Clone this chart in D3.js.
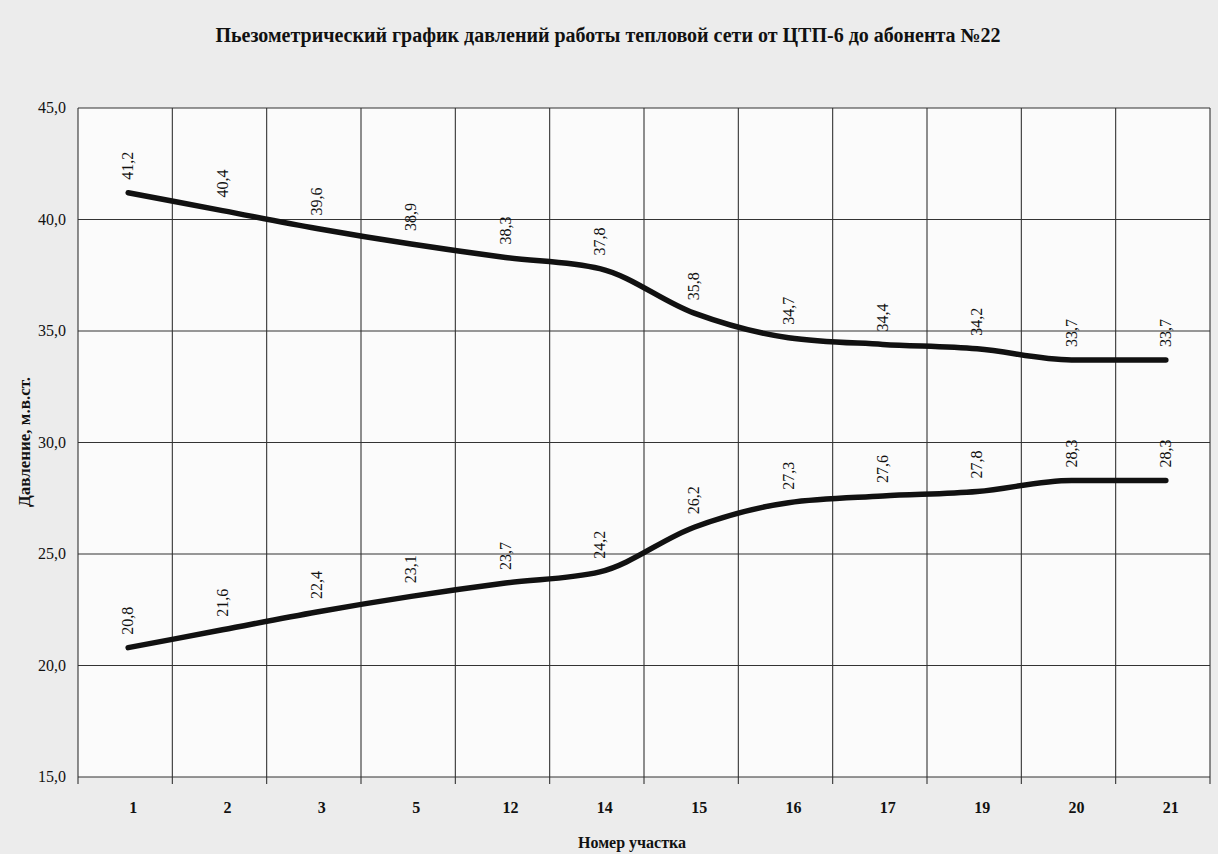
<!DOCTYPE html>
<html><head><meta charset="utf-8">
<script src="https://cdn.jsdelivr.net/npm/d3@7"></script>
<style>body{margin:0;background:#ededed;}svg{display:block;}</style>
</head><body>
<script>
const categories = ["1","2","3","5","12","14","15","16","17","19","20","21"];
const supply = [41.2,40.4,39.6,38.9,38.3,37.8,35.8,34.7,34.4,34.2,33.7,33.7];
const ret = [20.8,21.6,22.4,23.1,23.7,24.2,26.2,27.3,27.6,27.8,28.3,28.3];
const yTicks = [15,20,25,30,35,40,45];

const W=1218,H=854;
const m={l:78,t:108,r:1210,b:777};
const svg=d3.select("body").append("svg").attr("width",W).attr("height",H);
svg.append("rect").attr("width",W).attr("height",H).attr("fill","#ececec");
svg.append("rect").attr("x",m.l).attr("y",m.t).attr("width",m.r-m.l).attr("height",m.b-m.t).attr("fill","#fbfbfb");

const x=d3.scaleBand().domain(categories).range([m.l,m.r]);
const y=d3.scaleLinear().domain([15,45]).range([m.b,m.t]);
const fmt=v=>d3.format(".1f")(v).replace(".",",");

const g=svg.append("g");
g.selectAll(".hg").data(yTicks).join("line")
 .attr("x1",m.l).attr("x2",m.r).attr("y1",d=>y(d)).attr("y2",d=>y(d))
 .attr("stroke","#333").attr("stroke-width",1.2);
const edges=categories.map(c=>x(c)).concat([m.r]);
g.selectAll(".vg").data(edges).join("line")
 .attr("x1",d=>d).attr("x2",d=>d).attr("y1",m.t).attr("y2",m.b+7)
 .attr("stroke","#333").attr("stroke-width",1.1);

svg.selectAll(".yl").data(yTicks).join("text")
 .attr("x",m.l-12).attr("y",d=>y(d)+5).attr("text-anchor","end")
 .attr("font-family","Liberation Serif").attr("font-size",16).attr("fill","#111")
 .text(fmt);
svg.selectAll(".xl").data(categories).join("text")
 .attr("x",d=>x(d)+x.bandwidth()/2+8).attr("y",m.b+36).attr("text-anchor","middle")
 .attr("font-family","Liberation Serif").attr("font-size",16).attr("font-weight","bold").attr("fill","#111")
 .text(d=>d);

const line=d3.line().x((d,i)=>x(categories[i])+x.bandwidth()/2+3).y(d=>y(d)).curve(d3.curveMonotoneX);
[supply,ret].forEach(s=>{
  svg.append("path").attr("d",line(s)).attr("fill","none").attr("stroke","#111")
   .attr("stroke-width",5.5).attr("stroke-linecap","round").attr("stroke-linejoin","round");
  svg.selectAll(null).data(s).join("text")
   .attr("transform",(d,i)=>`translate(${x(categories[i])+x.bandwidth()/2+8},${y(d)-13}) rotate(-90)`)
   .attr("font-family","Liberation Serif").attr("font-size",16).attr("fill","#111")
   .text(fmt);
});

svg.append("text").attr("x",608).attr("y",42).attr("text-anchor","middle")
 .attr("font-family","Liberation Serif").attr("font-size",20).attr("font-weight","bold").attr("fill","#111")
 .text("Пьезометрический график давлений работы тепловой сети от ЦТП-6 до абонента №22");
svg.append("text").attr("x",632).attr("y",848).attr("text-anchor","middle")
 .attr("font-family","Liberation Serif").attr("font-size",16).attr("font-weight","bold").attr("fill","#111")
 .text("Номер участка");
svg.append("text").attr("transform","translate(30,442) rotate(-90)").attr("text-anchor","middle")
 .attr("font-family","Liberation Serif").attr("font-size",17).attr("font-weight","bold").attr("fill","#111")
 .text("Давление, м.в.ст.");
</script>
</body></html>
